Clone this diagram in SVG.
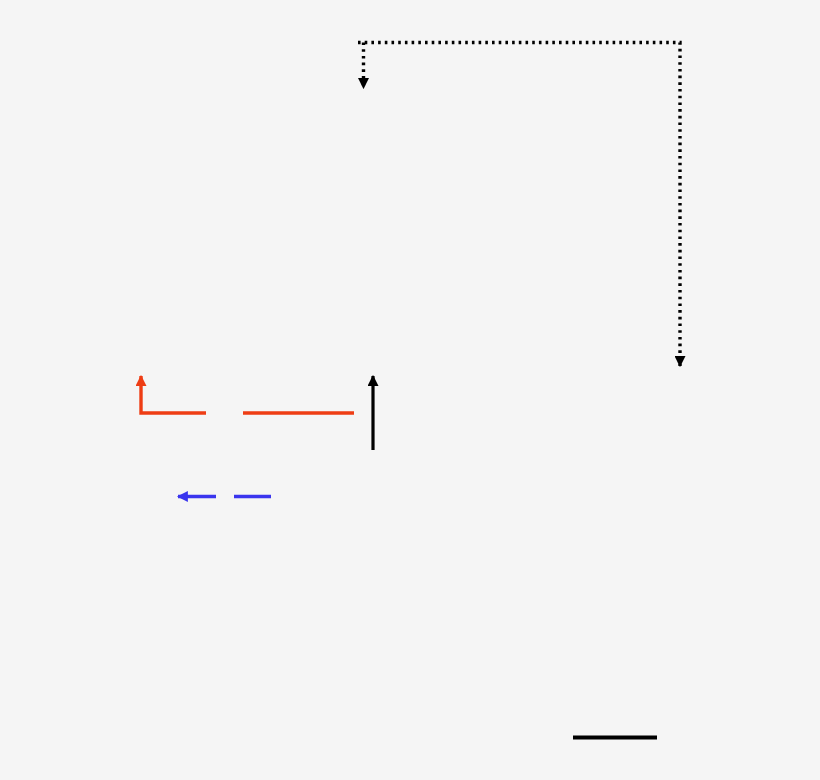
<svg xmlns="http://www.w3.org/2000/svg" width="820" height="780" viewBox="0 0 820 780">
<style>
.dot{fill:none;stroke:#000;stroke-width:3.4;stroke-dasharray:2.6 4.1;}
.red{fill:none;stroke:#ee3d14;stroke-width:3.4;}
.blk{fill:none;stroke:#000;stroke-width:3.2;}
.blue{fill:none;stroke:#3a35ee;stroke-width:3.4;}
</style>
<defs>
<marker id="ak" viewBox="0 0 10 10" refX="9" refY="5" markerWidth="11" markerHeight="11" markerUnits="userSpaceOnUse" orient="auto"><path d="M0,0 L10,5 L0,10 z" fill="#000"/></marker>
<marker id="ar" viewBox="0 0 10 10" refX="9" refY="5" markerWidth="11" markerHeight="11" markerUnits="userSpaceOnUse" orient="auto"><path d="M0,0 L10,5 L0,10 z" fill="#ee3d14"/></marker>
<marker id="ab" viewBox="0 0 10 10" refX="9" refY="5" markerWidth="11" markerHeight="11" markerUnits="userSpaceOnUse" orient="auto"><path d="M0,0 L10,5 L0,10 z" fill="#3a35ee"/></marker>
</defs>
<rect width="820" height="780" fill="#f5f5f5"/>
<g id="connectors">
<path class="dot" d="M358,42.5 H680 V366" marker-end="url(#ak)"/>
<path class="dot" d="M363.5,42.5 V88" marker-end="url(#ak)"/>
<path class="red" d="M354,413 H141 V376" stroke-dasharray="111 37 200" marker-end="url(#ar)"/>
<path class="blk" d="M373,450 V376" marker-end="url(#ak)"/>
<path class="blue" d="M271,496.5 H178" stroke-dasharray="37 18 60" marker-end="url(#ab)"/>
<path d="M573,737.5 H657" stroke="#000" stroke-width="4" fill="none"/>
</g>
</svg>
